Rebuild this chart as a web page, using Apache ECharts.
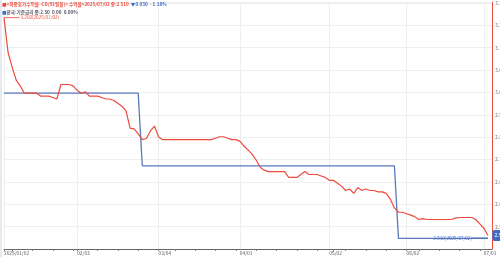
<!DOCTYPE html>
<html>
<head>
<meta charset="utf-8">
<script src="https://cdn.jsdelivr.net/npm/echarts@6/dist/echarts.min.js"></script>
<style>html,body{margin:0;padding:0;background:#fff;}#c{width:500px;height:257px;}</style>
</head>
<body>
<div id="c"></div>
<script>
// Trading days (Korea), 2025/01/02 - 2025/07/02
const dates = [
 '2025/01/02','2025/01/03','2025/01/06','2025/01/07','2025/01/08','2025/01/09','2025/01/10','2025/01/13','2025/01/14','2025/01/15',
 '2025/01/16','2025/01/17','2025/01/20','2025/01/21','2025/01/22','2025/01/23','2025/01/24','2025/01/31',
 '2025/02/03','2025/02/04','2025/02/05','2025/02/06','2025/02/07','2025/02/10','2025/02/11','2025/02/12','2025/02/13','2025/02/14',
 '2025/02/17','2025/02/18','2025/02/19','2025/02/20','2025/02/21','2025/02/24','2025/02/25','2025/02/26','2025/02/27','2025/02/28',
 '2025/03/04','2025/03/05','2025/03/06','2025/03/07','2025/03/10','2025/03/11','2025/03/12','2025/03/13','2025/03/14',
 '2025/03/17','2025/03/18','2025/03/19','2025/03/20','2025/03/21','2025/03/24','2025/03/25','2025/03/26','2025/03/27','2025/03/28','2025/03/31',
 '2025/04/01','2025/04/02','2025/04/03','2025/04/04','2025/04/07','2025/04/08','2025/04/09','2025/04/10','2025/04/11',
 '2025/04/14','2025/04/15','2025/04/16','2025/04/17','2025/04/18','2025/04/21','2025/04/22','2025/04/23','2025/04/24','2025/04/25',
 '2025/04/28','2025/04/29','2025/04/30',
 '2025/05/02','2025/05/07','2025/05/08','2025/05/09','2025/05/12','2025/05/13','2025/05/14','2025/05/15','2025/05/16',
 '2025/05/19','2025/05/20','2025/05/21','2025/05/22','2025/05/23','2025/05/26','2025/05/27','2025/05/28','2025/05/29','2025/05/30',
 '2025/06/02','2025/06/04','2025/06/05','2025/06/09','2025/06/10','2025/06/11','2025/06/12','2025/06/13',
 '2025/06/16','2025/06/17','2025/06/18','2025/06/19','2025/06/20','2025/06/23','2025/06/24','2025/06/25','2025/06/26','2025/06/27','2025/06/30',
 '2025/07/01','2025/07/02'
];

// CD(91일물) 최종호가수익률
const cdRate = [
 3.260,3.140,3.090,3.045,3.025,3.000,3.000,3.000,3.000,2.990,
 2.990,2.990,2.985,2.980,3.030,3.030,3.030,3.025,3.010,3.000,
 3.005,2.990,2.990,2.990,2.985,2.980,2.980,2.975,2.965,2.955,
 2.940,2.880,2.877,2.860,2.840,2.844,2.870,2.887,2.850,2.840,
 2.840,2.840,2.840,2.840,2.840,2.840,2.840,2.840,2.840,2.840,
 2.840,2.840,2.845,2.850,2.850,2.845,2.840,2.840,2.835,2.818,
 2.805,2.790,2.770,2.745,2.735,2.730,2.730,2.730,2.730,2.730,
 2.710,2.710,2.710,2.720,2.730,2.720,2.720,2.720,2.715,2.710,
 2.700,2.700,2.690,2.680,2.665,2.670,2.655,2.675,2.665,2.670,
 2.665,2.665,2.660,2.660,2.655,2.635,2.605,2.590,2.590,2.585,
 2.580,2.575,2.565,2.568,2.565,2.565,2.565,2.565,2.565,2.565,
 2.565,2.570,2.572,2.572,2.572,2.572,2.565,2.550,2.535,2.510
];

// 한국 기준금리
const baseRate = [
 3.00,3.00,3.00,3.00,3.00,3.00,3.00,3.00,3.00,3.00,
 3.00,3.00,3.00,3.00,3.00,3.00,3.00,3.00,3.00,3.00,
 3.00,3.00,3.00,3.00,3.00,3.00,3.00,3.00,3.00,3.00,
 3.00,3.00,3.00,3.00,2.75,2.75,2.75,2.75,2.75,2.75,
 2.75,2.75,2.75,2.75,2.75,2.75,2.75,2.75,2.75,2.75,
 2.75,2.75,2.75,2.75,2.75,2.75,2.75,2.75,2.75,2.75,
 2.75,2.75,2.75,2.75,2.75,2.75,2.75,2.75,2.75,2.75,
 2.75,2.75,2.75,2.75,2.75,2.75,2.75,2.75,2.75,2.75,
 2.75,2.75,2.75,2.75,2.75,2.75,2.75,2.75,2.75,2.75,
 2.75,2.75,2.75,2.75,2.75,2.75,2.75,2.50,2.50,2.50,
 2.50,2.50,2.50,2.50,2.50,2.50,2.50,2.50,2.50,2.50,
 2.50,2.50,2.50,2.50,2.50,2.50,2.50,2.50,2.50,2.50
];

const yMin = 2.4635, yMax = 3.314, yStep = 0.077;

const RED = '#ee4b3d', BLUE = '#5a78bb', BOX = '#3c6cc4';
const FONT = '"Noto Sans CJK KR", "Noto Sans", sans-serif';

const cats = dates.concat(['']);
function monthStart(i) {
  if (i >= dates.length) return false;
  if (i === 0) return true;
  return dates[i].slice(5, 7) !== dates[i - 1].slice(5, 7);
}
function weekStart(i) {
  if (i >= dates.length) return false;
  if (i === 0) return true;
  const d = new Date(dates[i].replace(/\//g, '-') + 'T00:00:00');
  const p = new Date(dates[i - 1].replace(/\//g, '-') + 'T00:00:00');
  return d.getDay() <= p.getDay() || (d - p) > 5 * 86400000;
}

let maxI = 0, minI = 0;
cdRate.forEach((v, i) => { if (v > cdRate[maxI]) maxI = i; if (v <= cdRate[minI]) minI = i; });
const lastI = cdRate.length - 1;

const chart = echarts.init(document.getElementById('c'), null, {renderer: 'canvas'});
chart.setOption({
  animation: false,
  textStyle: {fontFamily: FONT},
  title: {
    left: 2, top: 0, padding: 0,
    text: '{r|■<최종호가수익률~CD(91일물)> 수익률>2025/07/02 종:2.510}  {b|▼0.030  - 1.18%}\n{bs|■}{g|한국:기준금리 종:2.50  0.00  0.00%}',
    textStyle: {
      fontSize: 4.6, lineHeight: 8,
      rich: {
        r: {color: RED, fontSize: 4.6, lineHeight: 8, fontFamily: FONT},
        b: {color: BOX, fontSize: 4.6, lineHeight: 8, fontFamily: FONT},
        bs: {color: BOX, fontSize: 4.6, lineHeight: 8, fontFamily: FONT},
        g: {color: '#556', fontSize: 4.6, lineHeight: 8, fontFamily: FONT}
      }
    }
  },
  grid: {left: 4, right: 8, top: 2, bottom: 8, containLabel: false, outerBoundsMode: 'none'},
  xAxis: {
    type: 'category', data: cats, boundaryGap: false,
    axisLine: {lineStyle: {color: '#666', width: 1}},
    axisTick: {show: true, interval: (i) => weekStart(i), length: 2, lineStyle: {color: '#777'}},
    axisLabel: {
      interval: (i) => monthStart(i), align: 'left', margin: 2,
      fontSize: 4.8, color: '#555', fontFamily: FONT, hideOverlap: false,
      formatter: (v, i) => i === 0 ? v : v.slice(5)
    },
    splitLine: {show: true, interval: (i) => monthStart(i), lineStyle: {color: '#eeeeee', width: 1}}
  },
  yAxis: {
    type: 'value', position: 'right', min: yMin, max: yMax, interval: yStep, scale: true,
    axisLine: {show: true, lineStyle: {color: RED, width: 1}},
    axisTick: {show: false},
    axisLabel: {fontSize: 5, color: '#777', margin: 3, showMinLabel: false, showMaxLabel: false,
      fontFamily: FONT, formatter: (v) => v.toFixed(2)},
    splitLine: {show: true, lineStyle: {color: '#efefef', width: 1}}
  },
  series: [
    {
      name: '기준금리', type: 'line', data: baseRate, symbol: 'none', z: 2,
      lineStyle: {color: BLUE, width: 1.3}
    },
    {
      name: 'CD(91일물)', type: 'line', data: cdRate, symbol: 'none', z: 3,
      lineStyle: {color: RED, width: 1.2},
      markPoint: {
        silent: true,
        data: [
          {coord: [maxI, cdRate[maxI]], symbol: 'rect', symbolSize: [15, 0.8], symbolOffset: [8, 0],
           itemStyle: {color: RED},
           label: {show: true, position: 'right', distance: 1, fontSize: 4.6, color: RED, fontFamily: FONT,
             formatter: cdRate[maxI].toFixed(3) + '(' + dates[maxI] + ')'}},
          {coord: [minI, cdRate[minI]], symbol: 'rect', symbolSize: [16, 0.8], symbolOffset: [-8, 2.5],
           itemStyle: {color: BOX},
           label: {show: true, position: 'left', distance: 0, fontSize: 4.6, color: BOX, fontFamily: FONT,
             formatter: cdRate[minI].toFixed(3) + '(' + dates[minI] + ')'}},
          {coord: [lastI, cdRate[lastI]], symbol: 'rect', symbolSize: [1, 1],
           itemStyle: {color: 'rgba(0,0,0,0)'},
           label: {show: true, position: 'right', distance: 4, fontSize: 5, color: '#fff', fontFamily: FONT,
             backgroundColor: BOX, padding: [3, 2, 3, 2], borderRadius: 2,
             formatter: cdRate[lastI].toFixed(3)}}
        ]
      }
    }
  ],
  graphic: [
    {type: 'line', shape: {x1: 1, y1: 0, x2: 1, y2: 257}, style: {stroke: '#cfd7e3', lineWidth: 1}, silent: true}
  ]
});
</script>
</body>
</html>
